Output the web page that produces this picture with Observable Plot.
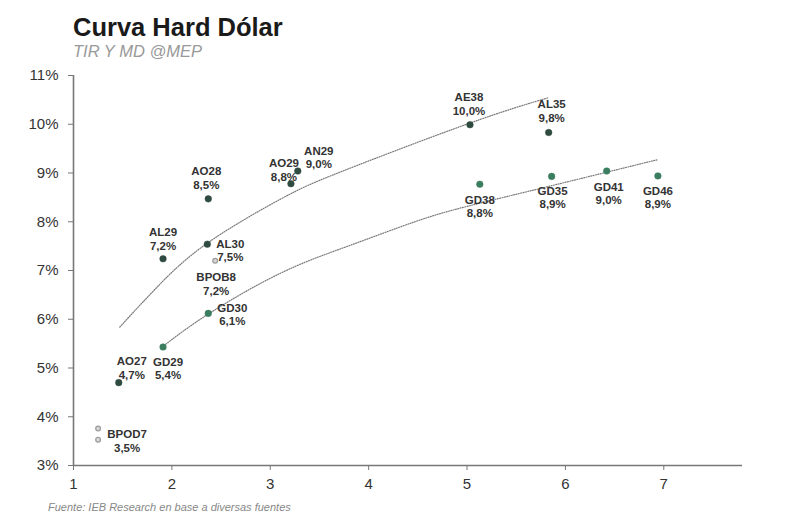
<!DOCTYPE html>
<html><head><meta charset="utf-8">
<script src="https://cdn.jsdelivr.net/npm/d3@7"></script>
<script src="https://cdn.jsdelivr.net/npm/@observablehq/plot@0.6"></script>
<style>
body{margin:0;background:#fff;font-family:"Liberation Sans",Arial,sans-serif;}
#wrap{position:relative;width:800px;height:521px;overflow:hidden}
#title{position:absolute;left:73px;top:14px;font-size:25.5px;font-weight:bold;line-height:26px;color:#1a1a1a;white-space:nowrap}
#sub{position:absolute;left:73px;top:43px;font-size:16.5px;font-style:italic;line-height:17px;color:#999;white-space:nowrap}
#chart{position:absolute;left:0;top:60px}
#foot{position:absolute;left:48px;top:501px;font-size:11px;font-style:italic;color:#888;line-height:12px;white-space:nowrap}
</style></head><body>
<div id="wrap">
<div id="title">Curva Hard Dólar</div>
<div id="sub">TIR Y MD @MEP</div>
<div id="chart"></div>
<div id="foot">Fuente: IEB Research en base a diversas fuentes</div>
</div>
<script>
// ---- data ----
const bonos    = ["BPOD7","", "AO27","GD29","AL29","GD30","AL30","BPOB8","AO28","AO29","AN29","AE38","GD38","AL35","GD35","GD41","GD46"];
const duration = [1.25, 1.25, 1.46, 1.91, 1.91, 2.37, 2.36, 2.44, 2.37, 3.21, 3.28, 5.03, 5.13, 5.83, 5.86, 6.42, 6.94];
const tir      = [3.53, 3.76, 4.70, 5.43, 7.24, 6.12, 7.54, 7.20, 8.47, 8.78, 9.04, 9.99, 8.77, 9.83, 8.93, 9.04, 8.94];
const familia  = ["BOPREAL","BOPREAL","Ley Arg","Ley NY","Ley Arg","Ley NY","Ley Arg","BOPREAL","Ley Arg","Ley Arg","Ley Arg","Ley Arg","Ley NY","Ley Arg","Ley NY","Ley NY","Ley NY"];

// trend curves
const curvaArgX = [1.47, 1.85, 2.36, 3.11, 3.75, 5.01, 5.82];
const curvaArgY = [5.84, 6.66, 7.56, 8.47, 9.05, 10.01, 10.54];
const curvaNyX  = [1.90, 2.38, 3.11, 3.79, 4.47, 5.01, 5.86, 6.93];
const curvaNyY  = [5.43, 6.12, 6.95, 7.50, 8.00, 8.32, 8.74, 9.27];

const xTicks = [1, 2, 3, 4, 5, 6, 7];
const yTicks = [3, 4, 5, 6, 7, 8, 9, 10, 11];

// ---- layout (label offsets in px, not data) ----
const labelOffset = {
  BPOD7:[29,1], AO27:[13,-15], GD29:[5,21], AL29:[0,-20], GD30:[24,1], AL30:[23,6],
  BPOB8:[1,23], AO28:[-2,-21], AO29:[-7,-14], AN29:[21,-14], AE38:[-1,-21], GD38:[0,22],
  AL35:[3,-22], GD35:[1,21], GD41:[2,22], GD46:[0,21]
};
const colors = {"Ley Arg":"#2f4b40","Ley NY":"#3a7d5f","BOPREAL":"#d8d8d8"};
const strokes = {"Ley Arg":"#2f4b40","Ley NY":"#3a7d5f","BOPREAL":"#9a9a9a"};

const data = bonos.map((b,i)=>({bono:b, x:duration[i], y:tir[i], fam:familia[i],
  label: b + "\n" + tir[i].toFixed(1).replace(".", ",") + "%"}));
const tArg = curvaArgX.map((x,i)=>({x, y:curvaArgY[i]}));
const tNy = curvaNyX.map((x,i)=>({x, y:curvaNyY[i]}));

const labelMarks = data.filter(d=>d.bono).map(d=>Plot.text([d], {
  x:"x", y:"y", text:"label", dx:labelOffset[d.bono][0], dy:labelOffset[d.bono][1],
  lineAnchor:"middle", fontWeight:"bold", fontSize:11.5, fill:"#333", lineHeight:1.17
}));

const chart = Plot.plot({
  width:800, height:445, marginTop:15, marginLeft:73, marginRight:58, marginBottom:40,
  x:{domain:[1,7.8]}, y:{domain:[3,11]},
  style:{fontFamily:"'Liberation Sans', Arial, sans-serif", background:"transparent", color:"#333"},
  marks:[
    Plot.axisX({ticks:xTicks, tickSize:5, tickPadding:8, stroke:"#777", fill:"#333", fontSize:15, tickFormat:d=>String(d), label:null}),
    Plot.axisY({ticks:yTicks, tickSize:5, tickPadding:10, stroke:"#777", fill:"#333", fontSize:15, tickFormat:d=>d+"%", label:null}),
    Plot.ruleY([3], {stroke:"#777", strokeWidth:1.6}),
    Plot.ruleX([1], {stroke:"#777", strokeWidth:1.6}),
    Plot.line(tArg, {x:"x", y:"y", stroke:"#7a7a7a", strokeWidth:1.2, strokeDasharray:"1,1.4", curve:"natural"}),
    Plot.line(tNy, {x:"x", y:"y", stroke:"#7a7a7a", strokeWidth:1.2, strokeDasharray:"1,1.4", curve:"natural"}),
    Plot.dot(data.filter(d=>d.fam!=="BOPREAL"), {x:"x", y:"y", r:3.3, fill:d=>colors[d.fam], stroke:d=>strokes[d.fam], strokeWidth:0.5}),
    Plot.dot(data.filter(d=>d.fam==="BOPREAL"), {x:"x", y:"y", r:2.4, fill:d=>colors[d.fam], stroke:d=>strokes[d.fam], strokeWidth:1.2}),
    ...labelMarks
  ]
});
document.getElementById("chart").appendChild(chart);
</script>
</body></html>
